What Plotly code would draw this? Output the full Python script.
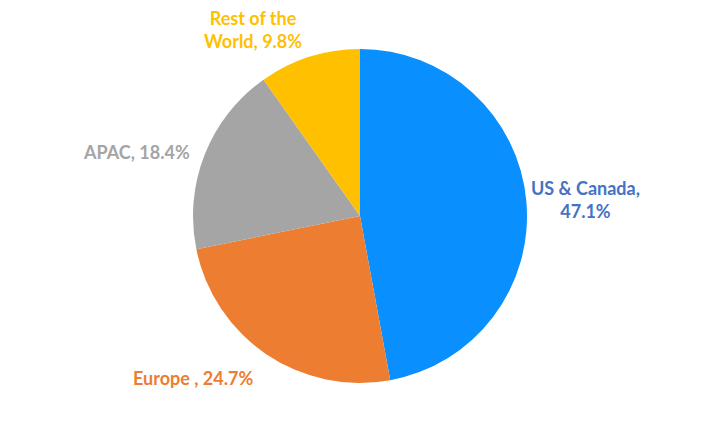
import plotly.graph_objects as go

regions = ["US & Canada", "Europe ", "APAC", "Rest of the World"]
shares = [47.1, 24.7, 18.4, 9.8]
slice_colors = ["#0A8FFF", "#ED7D31", "#A5A5A5", "#FFC000"]
label_colors = ["#4472C4", "#ED7D31", "#A5A5A5", "#FFC000"]
label_texts = ["US & Canada,<br>47.1%", "Europe , 24.7%", "APAC, 18.4%", "Rest of the<br>World, 9.8%"]

W, H = 722, 432
off = 8
cx, cy, r = 360 - off, 216 - off, 167

fig = go.Figure(go.Pie(
    labels=regions,
    values=shares,
    sort=False,
    direction="clockwise",
    rotation=0,
    marker=dict(colors=slice_colors, line=dict(width=0)),
    textinfo="none",
    hoverinfo="label+percent",
    domain=dict(x=[(cx - r) / W, (cx + r) / W], y=[(H - cy - r) / H, (H - cy + r) / H]),
    showlegend=False,
))

label_pos = [(585, 199), (193, 378), (136, 152), (253, 29)]
for txt, col, (x, y) in zip(label_texts, label_colors, label_pos):
    fig.add_annotation(
        x=(x - off) / W, y=1 - (y - off) / H, xref="paper", yref="paper",
        text="<b>" + txt + "</b>", showarrow=False,
        font=dict(family="Lato", size=18, color=col),
        xanchor="center", yanchor="middle", align="center",
    )

fig.update_layout(
    width=W, height=H,
    margin=dict(l=0, r=0, t=0, b=0),
    paper_bgcolor="white", plot_bgcolor="white",
)
fig.write_html("out.html")
